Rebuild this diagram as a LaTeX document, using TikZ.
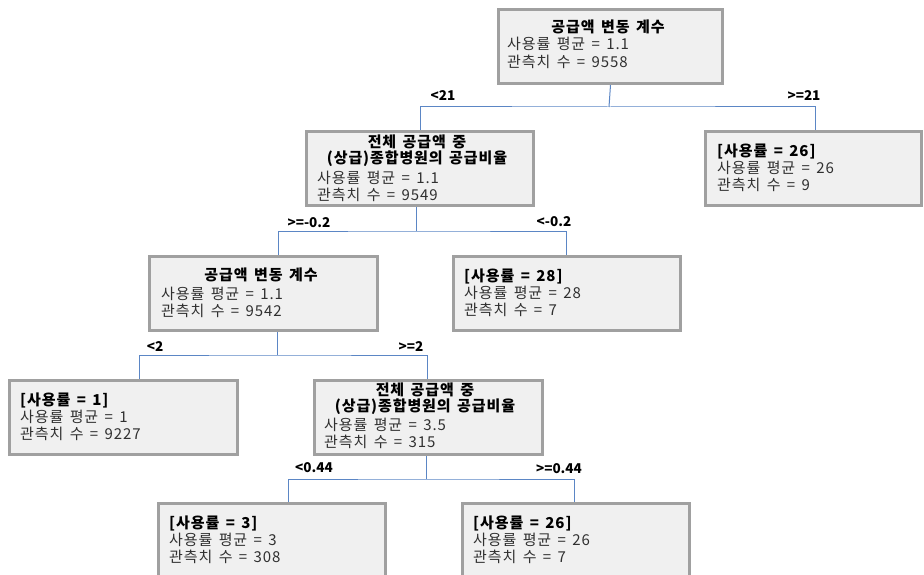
\documentclass[tikz,border=0pt]{standalone}
\usepackage{fontspec}
\setmainfont{Noto Sans CJK KR}
\newfontfamily\boxfont{Noto Sans CJK KR}[LetterSpace=6, WordSpace=1.5]
\usetikzlibrary{backgrounds}
\definecolor{boxline}{HTML}{A0A0A0}
\definecolor{boxfill}{HTML}{F0F0F0}
\definecolor{edgecol}{HTML}{5B86C5}
\definecolor{bodytext}{HTML}{303030}
\tikzset{
  box/.style={draw=boxline, line width=3pt, fill=boxfill, anchor=north west, inner sep=0pt, minimum height=74pt},
  ttl/.style={font=\boxfont\fontsize{15}{17}\selectfont\bfseries, text=black, inner sep=0pt, anchor=center},
  bodyline/.style={font=\boxfont\fontsize{15}{17}\selectfont, text=bodytext, inner sep=0pt, anchor=west},
  leafhead/.style={font=\boxfont\fontsize{15}{17}\selectfont\bfseries, text=black, inner sep=0pt, anchor=west},
  cond/.style={font=\fontsize{13.5}{16}\selectfont\bfseries, text=black, inner sep=0pt, anchor=center},
  edge/.style={draw=edgecol, line width=1pt}
}
\begin{document}
\begin{tikzpicture}[x=1pt, y=-1pt]
\path[use as bounding box, clip] (0,0) rectangle (924,575);

% boxes
\node[box, minimum width=224pt] (A) at (497,8) {};
\node[box, minimum width=227pt] (B) at (305,130) {};
\node[box, minimum width=216pt] (C) at (704,130) {};
\node[box, minimum width=228pt] (D) at (148,255) {};
\node[box, minimum width=227pt] (E) at (452,255) {};
\node[box, minimum width=228pt] (F) at (8,379) {};
\node[box, minimum width=228pt] (G) at (313,379) {};
\node[box, minimum width=227pt, minimum height=90pt] (H) at (157,502) {};
\node[box, minimum width=227pt, minimum height=90pt] (I) at (461,502) {};

% texts A
\node[ttl] (At) at (608,27) {공급액 변동 계수};
\node[bodyline] (A1) at (507,44) {사용률 평균 = 1.1};
\node[bodyline] (A2) at (507,62) {관측치 수 = 9558};
% B
\node[ttl] (Bt1) at (417,142) {전체 공급액 중};
\node[ttl] (Bt2) at (417,159) {(상급)종합병원의 공급비율};
\node[bodyline] (B1) at (317,178) {사용률 평균 = 1.1};
\node[bodyline] (B2) at (317,195) {관측치 수 = 9549};
% C
\node[leafhead] (Ch) at (717,151) {[사용률 = 26]};
\node[bodyline] (C1) at (717,168) {사용률 평균 = 26};
\node[bodyline] (C2) at (717,185) {관측치 수 = 9};
% D
\node[ttl] (Dt) at (261,275) {공급액 변동 계수};
\node[bodyline] (D1) at (161,294) {사용률 평균 = 1.1};
\node[bodyline] (D2) at (161,311) {관측치 수 = 9542};
% E
\node[leafhead] (Eh) at (464,276) {[사용률 = 28]};
\node[bodyline] (E1) at (464,293) {사용률 평균 = 28};
\node[bodyline] (E2) at (464,310) {관측치 수 = 7};
% F
\node[leafhead] (Fh) at (20,400) {[사용률 = 1]};
\node[bodyline] (F1) at (20,417) {사용률 평균 = 1};
\node[bodyline] (F2) at (20,434) {관측치 수 = 9227};
% G
\node[ttl] (Gt1) at (425,390) {전체 공급액 중};
\node[ttl] (Gt2) at (425,407) {(상급)종합병원의 공급비율};
\node[bodyline] (G1) at (324,425) {사용률 평균 = 3.5};
\node[bodyline] (G2) at (324,442) {관측치 수 = 315};
% H
\node[leafhead] (Hh) at (169,523) {[사용률 = 3]};
\node[bodyline] (H1) at (169,540) {사용률 평균 = 3};
\node[bodyline] (H2) at (169,557) {관측치 수 = 308};
% I
\node[leafhead] (Ih) at (473,523) {[사용률 = 26]};
\node[bodyline] (I1) at (473,540) {사용률 평균 = 26};
\node[bodyline] (I2) at (473,557) {관측치 수 = 7};

% junctions and entry points
\coordinate (jA) at (609,107);
\coordinate (inB) at (420,130);
\coordinate (inC) at (815,130);
\coordinate (jB) at (416,231);
\coordinate (inD) at (278,255);
\coordinate (inE) at (566,255);
\coordinate (jD) at (277,355);
\coordinate (inF) at (139,379);
\coordinate (inG) at (427,379);
\coordinate (jG) at (426,479);
\coordinate (inH) at (288,502);
\coordinate (inI) at (574,502);

\begin{pgfonlayer}{background}
\fill[white] (0,0) rectangle (924,575);
\draw[edge] (A.south) -- (jA);
\draw[edge] (inB) |- (jA) -| (inC);
\draw[edge] (B.south -| jB) -- (jB);
\draw[edge] (inD) |- (jB) -| (inE);
\draw[edge] (D.south -| jD) -- (jD);
\draw[edge] (inF) |- (jD) -| (inG);
\draw[edge] (G.south -| jG) -- (jG);
\draw[edge] (inH) |- (jG) -| (inI);
\end{pgfonlayer}

% condition labels
\node[cond] (l1) at (443,96) {<21};
\node[cond] (l2) at (804,96) {>=21};
\node[cond] (l3) at (309,223) {>=-0.2};
\node[cond] (l4) at (554,222) {<-0.2};
\node[cond] (l5) at (155,347) {<2};
\node[cond] (l6) at (411,347) {>=2};
\node[cond] (l7) at (314,468) {<0.44};
\node[cond] (l8) at (559,469) {>=0.44};
\end{tikzpicture}
\end{document}
